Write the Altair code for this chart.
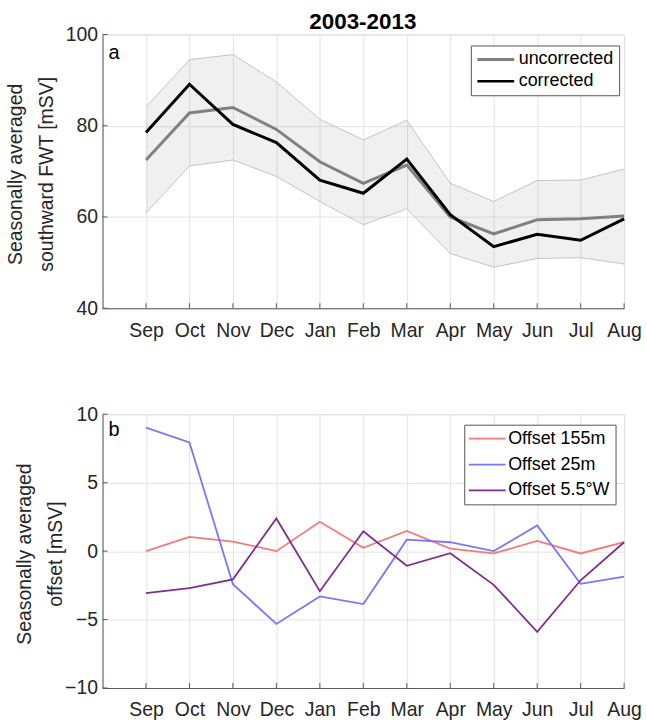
import altair as alt
import pandas as pd

months = ["Sep", "Oct", "Nov", "Dec", "Jan", "Feb", "Mar", "Apr", "May", "Jun", "Jul", "Aug"]
month_idx = list(range(1, 13))

uncorrected = [72.5, 82.8, 84.0, 79.2, 72.1, 67.4, 71.4, 60.0, 56.3, 59.4, 59.6, 60.2]
corrected = [78.5, 89.1, 80.3, 76.3, 68.1, 65.2, 72.7, 60.5, 53.5, 56.2, 54.9, 59.6]
band_upper = [84.1, 94.5, 95.6, 89.6, 81.4, 76.9, 81.2, 67.4, 63.4, 68.0, 68.1, 70.5]
band_lower = [60.9, 71.2, 72.5, 68.9, 63.4, 58.3, 61.8, 52.0, 49.0, 50.9, 51.1, 49.7]

offset_155m = [0.0, 1.04, 0.7, 0.0, 2.15, 0.24, 1.47, 0.19, -0.17, 0.75, -0.17, 0.65]
offset_25m = [9.03, 7.94, -2.42, -5.32, -3.31, -3.87, 0.84, 0.65, 0.0, 1.88, -2.39, -1.86]
offset_55w = [-3.07, -2.71, -2.06, 2.39, -2.93, 1.45, -1.07, -0.15, -2.46, -5.9, -2.13, 0.65]

top_ticks = [40, 60, 80, 100]
bot_ticks = [-10, -5, 0, 5, 10]

top_series = ["uncorrected", "corrected"]
bot_series = ["Offset 155m", "Offset 25m", "Offset 5.5°W"]
panel_a = ["a"]
panel_b = ["b"]
main_title = ["2003-2013"]

W, H = 524, 275
FONT = "Liberation Sans"
TICKC = "#262626"
GRIDC = "#e3e3e3"
AXC = "#5a5a5a"
LINE_PATH = "M-2.5,0L2.5,0"

label_expr = "['', " + ", ".join("'%s'" % m for m in months) + "][datum.value]"

band_df = pd.DataFrame({"m": month_idx, "lo": band_lower, "hi": band_upper})
top_df = pd.DataFrame({
    "m": month_idx * 2,
    "v": uncorrected + corrected,
    "s": ["uncorrected"] * 12 + ["corrected"] * 12,
})
bot_df = pd.DataFrame({
    "m": month_idx * 3,
    "v": offset_155m + offset_25m + offset_55w,
    "s": [bot_series[0]] * 12 + [bot_series[1]] * 12 + [bot_series[2]] * 12,
})
mon_df = pd.DataFrame({"m": month_idx})
top_tick_df = pd.DataFrame({"t": top_ticks})
bot_tick_df = pd.DataFrame({"t": bot_ticks})


def xenc():
    return alt.X("m:Q", scale=alt.Scale(domain=[0, 12], nice=False, zero=False),
                 axis=alt.Axis(values=month_idx, labelExpr=label_expr, title=None,
                               grid=True, gridColor=GRIDC, ticks=False, labelPadding=13,
                               labelFontSize=19.5, labelFont=FONT, labelColor=TICKC,
                               domainColor=AXC, labelFlush=False))


def yaxis(vals, title, tx, ty):
    return alt.Axis(values=vals, title=title, grid=True, gridColor=GRIDC, ticks=False,
                    labelPadding=5, labelFontSize=19.5, labelFont=FONT, labelColor=TICKC,
                    domainColor=AXC, titleFont=FONT, titleFontSize=19.5,
                    titleFontWeight="normal", titleColor=TICKC, titleX=tx, titleY=ty,
                    titleAngle=270, titleAlign="center", titleBaseline="middle",
                    titleLineHeight=31, labelFlush=False)


def legend(x, y, sw, pad, rp, so, lo):
    return alt.Legend(orient="none", legendX=x, legendY=y, title=None,
                      symbolType=LINE_PATH, symbolSize=219, symbolOffset=so,
                      symbolStrokeWidth=sw, labelFontSize=18, labelFont=FONT,
                      labelColor="#000000", labelOffset=lo, padding=pad, rowPadding=rp,
                      strokeColor="#555555", fillColor="white", cornerRadius=0)


ytop_scale = alt.Scale(domain=[40, 100], nice=False, zero=False)
ybot_scale = alt.Scale(domain=[-10, 10], nice=False, zero=False)

band = alt.Chart(band_df).mark_area(color="#999999", opacity=0.15).encode(
    x=xenc(),
    y=alt.Y("lo:Q", scale=ytop_scale,
            axis=yaxis(top_ticks, ["Seasonally averaged", "southward FWT [mSV]"], -87, 140)),
    y2="hi:Q",
)
band_lo = alt.Chart(band_df).mark_line(color="#c4c4c4", strokeWidth=1).encode(
    x="m:Q", y=alt.Y("lo:Q", scale=ytop_scale))
band_hi = alt.Chart(band_df).mark_line(color="#c4c4c4", strokeWidth=1).encode(
    x="m:Q", y=alt.Y("hi:Q", scale=ytop_scale))

top_lines = alt.Chart(top_df).mark_line(strokeWidth=3).encode(
    x="m:Q",
    y=alt.Y("v:Q", scale=ytop_scale),
    color=alt.Color("s:N", sort=top_series,
                    scale=alt.Scale(domain=top_series, range=["#808080", "#000000"]),
                    legend=legend(370, 11, 3, 5, 4, 11.1, 14)),
    strokeWidth=alt.StrokeWidth("s:N", scale=alt.Scale(domain=top_series, range=[3, 2.6]),
                                legend=None),
)

top_xt = alt.Chart(mon_df).mark_rule(color=AXC, strokeWidth=1).encode(
    x="m:Q", y=alt.value(H), y2=alt.value(H - 5))
top_yt = alt.Chart(top_tick_df).mark_rule(color=AXC, strokeWidth=1).encode(
    y=alt.Y("t:Q", scale=ytop_scale), x=alt.value(0), x2=alt.value(5))
top_lab = alt.Chart(pd.DataFrame({"t": panel_a})).mark_text(
    fontSize=20, font=FONT, align="left", baseline="alphabetic", color="#000").encode(
    text="t:N", x=alt.value(6), y=alt.value(25))
top_title = alt.Chart(pd.DataFrame({"t": main_title})).mark_text(
    fontSize=22.5, font=FONT, fontWeight="bold", align="center", baseline="alphabetic",
    color="#000").encode(text="t:N", x=alt.value(W / 2 - 0.5), y=alt.value(-6))

top = alt.layer(band, band_lo, band_hi, top_lines, top_xt, top_yt, top_lab,
                top_title).properties(width=W, height=H)

bot_lines = alt.Chart(bot_df).mark_line(strokeWidth=1.8).encode(
    x=xenc(),
    y=alt.Y("v:Q", scale=ybot_scale,
            axis=yaxis(bot_ticks, ["Seasonally averaged", "offset [mSV]"], -78, 140)),
    color=alt.Color("s:N", sort=bot_series,
                    scale=alt.Scale(domain=bot_series,
                                    range=["#f47a7a", "#7777fb", "#7e2f8e"]),
                    legend=legend(363.4, 10.5, 1.8, 5, 8, 9.1, 12)),
)
bot_xt = alt.Chart(mon_df).mark_rule(color=AXC, strokeWidth=1).encode(
    x="m:Q", y=alt.value(H), y2=alt.value(H - 5))
bot_yt = alt.Chart(bot_tick_df).mark_rule(color=AXC, strokeWidth=1).encode(
    y=alt.Y("t:Q", scale=ybot_scale), x=alt.value(0), x2=alt.value(5))
bot_lab = alt.Chart(pd.DataFrame({"t": panel_b})).mark_text(
    fontSize=20, font=FONT, align="left", baseline="alphabetic", color="#000").encode(
    text="t:N", x=alt.value(6), y=alt.value(22))

bottom = alt.layer(bot_lines, bot_xt, bot_yt, bot_lab).properties(width=W, height=H)

chart = alt.vconcat(top, bottom, spacing=106.5, bounds="flush").resolve_scale(
    color="independent", strokeWidth="independent"
).properties(
    padding={"left": 5, "top": 8, "right": 5, "bottom": 5},
).configure_view(stroke=None).configure(background="white")

chart.save("out.html", embed_options={"renderer": "svg", "actions": False})
